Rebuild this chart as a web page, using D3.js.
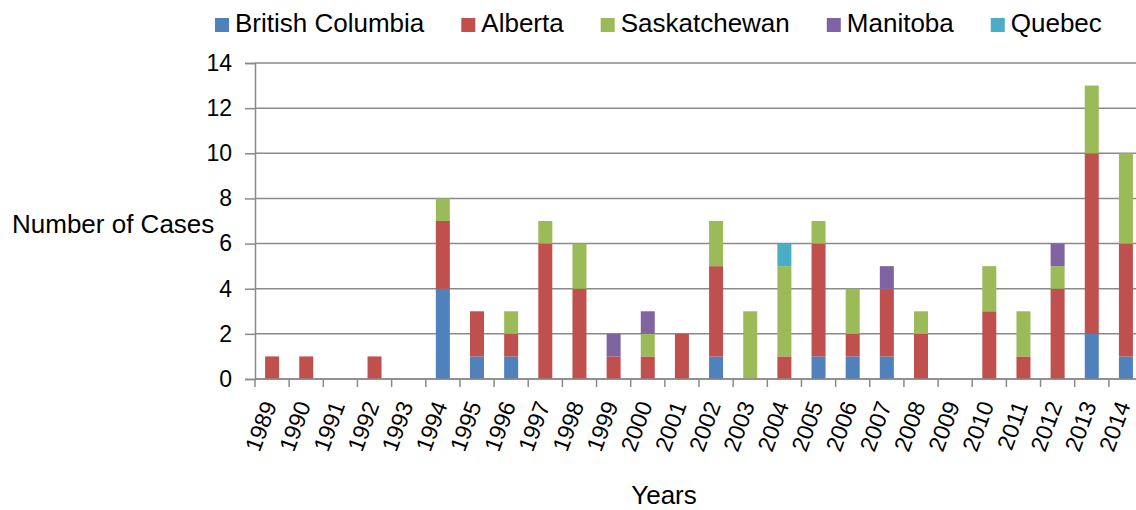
<!DOCTYPE html>
<html>
<head>
<meta charset="utf-8">
<script src="https://cdn.jsdelivr.net/npm/d3@7"></script>
<style>
  body { margin: 0; background: #fff; }
  svg { display: block; font-family: "Liberation Sans", Arial, sans-serif; }
</style>
</head>
<body>
<div id="chart"></div>
<script>
// data
const years = ['1989','1990','1991','1992','1993','1994','1995','1996','1997','1998','1999','2000','2001',
               '2002','2003','2004','2005','2006','2007','2008','2009','2010','2011','2012','2013','2014'];
const provinces = ['British Columbia', 'Alberta', 'Saskatchewan', 'Manitoba', 'Quebec'];
const britishColumbia = [0,0,0,0,0,4,1,1,0,0,0,0,0,1,0,0,1,1,1,0,0,0,0,0,2,1];
const alberta         = [1,1,0,1,0,3,2,1,6,4,1,1,2,4,0,1,5,1,3,2,0,3,1,4,8,5];
const saskatchewan    = [0,0,0,0,0,1,0,1,1,2,0,1,0,2,3,4,1,2,0,1,0,2,2,1,3,4];
const manitoba        = [0,0,0,0,0,0,0,0,0,0,1,1,0,0,0,0,0,0,1,0,0,0,0,1,0,0];
const quebec          = [0,0,0,0,0,0,0,0,0,0,0,0,0,0,0,1,0,0,0,0,0,0,0,0,0,0];
const yTicks = [0, 2, 4, 6, 8, 10, 12, 14];
const colors = ['#4f81bd', '#c0504d', '#9bbb59', '#8064a2', '#4bacc6'];

const seriesValues = [britishColumbia, alberta, saskatchewan, manitoba, quebec];
const table = years.map((yr, i) => {
    const row = { year: yr };
    provinces.forEach((p, k) => { row[p] = seriesValues[k][i]; });
    return row;
});

const W = 1136, H = 510;
const margin = { left: 255, top: 63 };
const plotW = 888, plotH = 316;

const svg = d3.select('#chart').append('svg')
    .attr('width', W)
    .attr('height', H);

const x = d3.scaleBand()
    .domain(years)
    .range([margin.left, margin.left + plotW])
    .paddingInner(0.59)
    .paddingOuter(0.295);

const y = d3.scaleLinear()
    .domain([0, 14])
    .range([margin.top + plotH, margin.top]);

const color = d3.scaleOrdinal().domain(provinces).range(colors);

// gridlines
svg.append('g')
    .selectAll('line')
    .data(yTicks)
    .join('line')
    .attr('x1', margin.left)
    .attr('x2', margin.left + plotW)
    .attr('y1', d => y(d))
    .attr('y2', d => y(d))
    .attr('stroke', '#8a8a8a')
    .attr('stroke-width', 1.5);

// y axis
const yAxis = d3.axisLeft(y)
    .tickValues(yTicks)
    .tickSize(10)
    .tickPadding(13);

svg.append('g')
    .attr('class', 'y-axis')
    .attr('transform', `translate(${margin.left},0)`)
    .call(yAxis)
    .call(g => g.select('.domain').attr('stroke', '#8a8a8a').attr('stroke-width', 1.5))
    .call(g => g.selectAll('.tick line').attr('stroke', '#8a8a8a').attr('stroke-width', 1.5))
    .call(g => g.selectAll('.tick text')
        .attr('font-size', 23)
        .attr('fill', '#000')
        .attr('font-family', '"Liberation Sans", Arial, sans-serif'));

// stacked bars
const series = d3.stack().keys(provinces)(table);

svg.append('g')
    .selectAll('g')
    .data(series)
    .join('g')
    .attr('fill', d => color(d.key))
    .selectAll('rect')
    .data(d => d.filter(s => s[1] > s[0]))
    .join('rect')
    .attr('x', d => x(d.data.year))
    .attr('width', x.bandwidth())
    .attr('y', d => y(d[1]))
    .attr('height', d => y(d[0]) - y(d[1]));

// x axis: baseline and ticks at category boundaries
const xg = svg.append('g').attr('class', 'x-axis');
xg.append('line')
    .attr('x1', margin.left)
    .attr('x2', margin.left + plotW)
    .attr('y1', y(0))
    .attr('y2', y(0))
    .attr('stroke', '#8a8a8a')
    .attr('stroke-width', 1.5);

xg.selectAll('.bound')
    .data(d3.range(years.length + 1))
    .join('line')
    .attr('class', 'bound')
    .attr('x1', i => margin.left + i * x.step())
    .attr('x2', i => margin.left + i * x.step())
    .attr('y1', y(0))
    .attr('y2', y(0) + 8)
    .attr('stroke', '#8a8a8a')
    .attr('stroke-width', 1.5);

xg.selectAll('.year')
    .data(years)
    .join('text')
    .attr('class', 'year')
    .attr('transform', d => `translate(${x(d) + x.bandwidth() / 2 + 5},${y(0) + 26}) rotate(-70)`)
    .attr('text-anchor', 'end')
    .attr('font-size', 23)
    .attr('fill', '#000')
    .text(d => d);

// axis titles
svg.append('text')
    .attr('x', 12)
    .attr('y', 233)
    .attr('font-size', 26)
    .attr('fill', '#000')
    .text('Number of Cases');

svg.append('text')
    .attr('x', 664)
    .attr('y', 504)
    .attr('text-anchor', 'middle')
    .attr('font-size', 26)
    .attr('fill', '#000')
    .text('Years');

// legend
const legend = svg.append('g').attr('class', 'legend');
let lx = 215;
provinces.forEach((p, k) => {
    const item = legend.append('g').attr('transform', `translate(${lx},0)`);
    item.append('rect')
        .attr('x', 0)
        .attr('y', 18)
        .attr('width', 14)
        .attr('height', 14)
        .attr('fill', colors[k]);
    const t = item.append('text')
        .attr('x', 20)
        .attr('y', 32)
        .attr('font-size', 26)
        .attr('fill', '#000')
        .text(p);
    lx += 20 + t.node().getComputedTextLength() + 37;
});
</script>
</body>
</html>
